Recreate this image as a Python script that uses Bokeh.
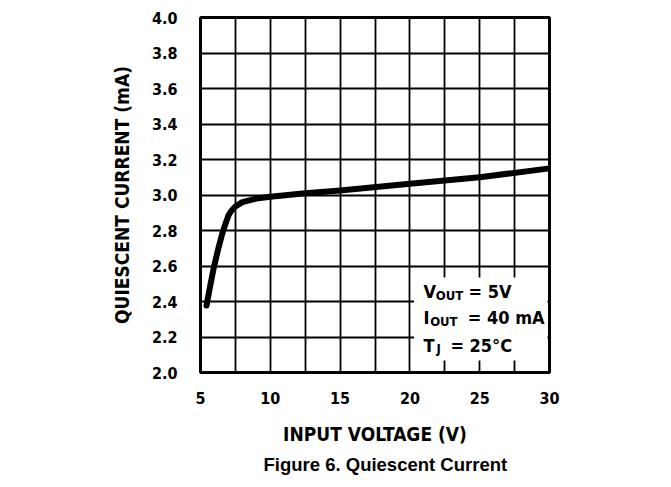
from bokeh.plotting import figure
from bokeh.models import FixedTicker, Label, BoxAnnotation, Title, Range1d, NumeralTickFormatter
from bokeh.embed import file_html
from bokeh.resources import INLINE

# data
vin = [5.43, 5.7, 5.95, 6.25, 6.55, 6.8, 7.0, 7.2, 7.5, 8.0, 9.0, 10.0, 12.5, 15.0, 20.0, 25.0, 30.0]
iq = [2.377, 2.49, 2.59, 2.69, 2.78, 2.84, 2.885, 2.91, 2.935, 2.96, 2.98, 2.99, 3.01, 3.025, 3.063, 3.10, 3.15]
x_ticks = [5, 10, 15, 20, 25, 30]
x_grid = [5, 7.5, 10, 12.5, 15, 17.5, 20, 22.5, 25, 27.5, 30]
y_ticks = [2.0, 2.2, 2.4, 2.6, 2.8, 3.0, 3.2, 3.4, 3.6, 3.8, 4.0]

FW, FH = 349, 355
L, T = 200, 17
W, H = 650, 482

p = figure(width=W, height=H, output_backend="svg", toolbar_location=None,
           x_range=Range1d(5, 30), y_range=Range1d(2.0, 4.0),
           min_border_left=L, min_border_right=W - L - FW,
           min_border_top=T, min_border_bottom=H - T - FH)
p.frame_width = FW
p.frame_height = FH
p.background_fill_color = "white"
p.border_fill_color = "white"
p.outline_line_color = "black"
p.outline_line_width = 3

narrow = "DejaVu Sans Condensed"

p.xaxis.ticker = FixedTicker(ticks=x_ticks)
p.yaxis.ticker = FixedTicker(ticks=y_ticks)
p.yaxis.formatter = NumeralTickFormatter(format="0.0")
for ax in (p.xaxis[0], p.yaxis[0]):
    ax.axis_line_color = None
    ax.major_tick_line_color = None
    ax.minor_tick_line_color = None
    ax.major_label_text_font = narrow
    ax.major_label_text_font_style = "bold"
    ax.major_label_text_font_size = "16px"
    ax.major_label_text_color = "black"
    ax.axis_label_text_font = narrow
    ax.axis_label_text_font_style = "bold"
    ax.axis_label_text_font_size = "19px"
    ax.axis_label_text_color = "black"
p.xaxis.major_label_standoff = 13
p.yaxis.major_label_standoff = 17
p.xaxis.axis_label = "INPUT VOLTAGE (V)"
p.yaxis.axis_label = "QUIESCENT CURRENT (mA)"
p.xaxis.axis_label_standoff = 16
p.yaxis.axis_label_standoff = 16

p.xgrid.ticker = FixedTicker(ticks=x_grid)
p.ygrid.ticker = FixedTicker(ticks=y_ticks)
for g in (p.xgrid[0], p.ygrid[0]):
    g.grid_line_color = "black"
    g.grid_line_width = 1.8
    g.grid_line_alpha = 1.0

p.line(vin, iq, line_color="black", line_width=6, line_cap="round", line_join="round")

p.add_layout(BoxAnnotation(left=20.3, right=29.85, bottom=2.068, top=2.535,
                           fill_color="white", fill_alpha=1.0, line_color=None, level="overlay"))

main_fs = "18px"
sub_fs = "13px"
def lab(x, y, t, fs):
    p.add_layout(Label(x=x, y=y, text=t, text_font=narrow, text_font_style="bold",
                       text_font_size=fs, text_color="black", text_baseline="alphabetic",
                       level="overlay"))

lab(20.97, 2.455, "V", main_fs)
lab(21.85, 2.432, "OUT", sub_fs)
lab(24.2, 2.455, "= 5V", main_fs)
lab(20.97, 2.312, "I", main_fs)
lab(21.45, 2.29, "OUT", sub_fs)
lab(24.15, 2.312, "= 40 mA", main_fs)
lab(20.97, 2.152, "T", main_fs)
lab(21.9, 2.135, "J", sub_fs)
lab(22.9, 2.152, "= 25°C", main_fs)

p.add_layout(Title(text="Figure 6. Quiescent Current", align="left", offset=63,
                   text_font="Liberation Sans", text_font_style="bold",
                   text_font_size="18.5px", text_color="black", standoff=8), "below")

open("out.html", "w").write(file_html(p, INLINE))
